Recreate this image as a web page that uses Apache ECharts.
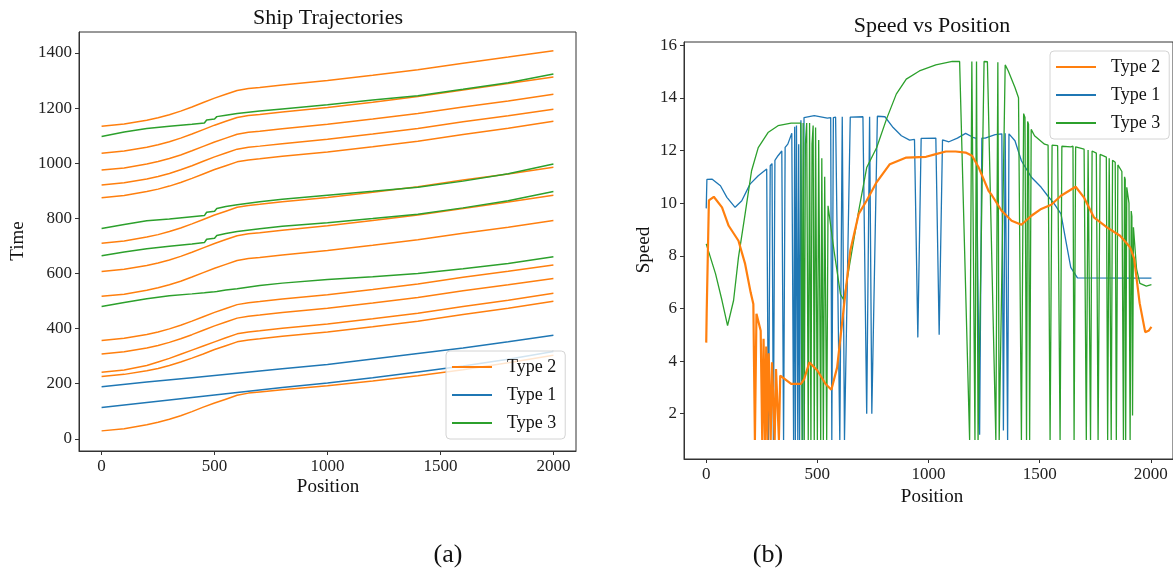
<!DOCTYPE html>
<html><head><meta charset="utf-8">
<script src="https://cdn.jsdelivr.net/npm/echarts@6.0.0/dist/echarts.min.js"></script>
<style>html,body{margin:0;padding:0;background:#fff}#c{width:1173px;height:574px}</style>
</head><body><div id="c"></div>
<script>
// ---------- (a) Ship Trajectories ----------
const trajPos = [0,100,200,250,300,350,400,450,500,550,600,650,700,800,1000,1200,1400,1600,1800,2000];
const type2Trajectories = [
  [1134,1142,1156,1165,1176,1189,1204,1220,1236,1250,1264,1271,1275,1284,1300,1319,1339,1363,1385,1408],
  [1036,1044,1058,1067,1078,1091,1106,1122,1138,1152,1166,1173,1177,1186,1202,1221,1242,1266,1289,1313],
  [975,983,997,1006,1017,1030,1045,1061,1077,1091,1105,1112,1116,1125,1141,1160,1180,1204,1226,1250],
  [921,929,943,952,963,976,991,1007,1023,1037,1051,1058,1062,1071,1087,1106,1126,1150,1172,1196],
  [875,883,897,906,917,930,945,961,977,991,1005,1012,1016,1025,1041,1060,1080,1104,1127,1152],
  [710,718,732,741,752,765,780,796,812,826,840,847,851,860,876,895,915,939,961,985],
  [607,615,629,638,649,662,677,693,709,723,737,744,748,757,773,792,812,836,859,884],
  [517,525,539,548,559,572,587,603,619,633,647,654,658,667,683,702,722,746,768,792],
  [357,365,379,388,399,412,427,443,459,473,487,494,498,507,523,542,562,586,608,631],
  [308,316,330,339,350,363,378,394,410,424,438,445,449,458,474,493,513,537,559,582],
  [242,250,266,279,292,307,322,337,352,367,381,388,392,401,417,436,456,480,503,528],
  [226,234,247,255,266,279,293,308,324,338,352,359,363,372,388,407,427,451,474,499],
  [29,37,51,60,71,84,99,115,130,144,158,166,170,178,193,210,229,251,276,303]
];
const type1Pos = [0,200,400,600,800,1000,1200,1400,1600,1800,2000];
const type1Trajectories = [
  [189,206,222,238,254,270,290,310,330,352,376],
  [114,132,150,168,186,203,222,243,264,289,317]
];
const type3Pos = [0,100,200,300,400,455,465,500,510,550,600,700,800,1000,1200,1400,1600,1800,2000];
const type3Trajectories = [
  [1097,1113,1126,1134,1141,1146,1157,1160,1169,1174,1180,1189,1197,1212,1229,1245,1268,1292,1324],
  [763,778,791,798,806,810,822,826,836,843,849,860,869,884,898,913,935,962,997],
  [664,678,690,699,707,712,724,728,738,745,752,762,771,784,799,815,838,864,897],
  [480,495,508,519,526,530,531,534,535,540,545,556,565,578,588,600,617,636,661]
];
const trajYTicks = [0,200,400,600,800,1000,1200,1400];
const posTicks = [0,500,1000,1500,2000];

// ---------- (b) Speed vs Position : [position, speed] ----------
const speedType2 = [[0,4.7],[2,5.8],[12,10.1],[34,10.24],[71,9.84],[101,9.14],[145,8.57],[175,7.69],[200,6.6],[212,6.17],[219,1],[226,5.8],[245,5.15],[252,1],[258,4.85],[264,1],[270,4.55],[275,1],[281,4.3],[290,1],[296,3.95],[308,1],[314,3.7],[327,1],[333,3.45],[382,3.13],[426,3.13],[440,3.3],[464,3.95],[500,3.64],[537,3.13],[563,2.91],[589,3.76],[619,6.04],[648,8.19],[686,9.59],[722,10.1],[767,10.8],[826,11.48],[900,11.73],[989,11.76],[1033,11.86],[1078,11.96],[1122,11.96],[1167,11.92],[1196,11.8],[1226,11.35],[1270,10.47],[1285,10.3],[1329,9.71],[1374,9.33],[1418,9.18],[1463,9.52],[1507,9.78],[1552,9.94],[1596,10.28],[1662,10.62],[1699,10.22],[1744,9.46],[1803,9.08],[1862,8.76],[1907,8.32],[1925,7.9],[1950,6.2],[1975,5.1],[1990,5.15],[2003,5.3]];
const speedType1 = [[0,9.8],[3,10.9],[27,10.91],[64,10.66],[93,10.22],[130,9.84],[160,10.09],[197,10.72],[234,11.04],[272,11.3],[280,1],[288,11.42],[296,11.5],[302,1],[309,11.62],[323,11.8],[340,11.98],[348,1],[355,12.12],[367,12.24],[385,12.65],[393,1],[398,12.9],[401,1],[406,12.95],[412,1],[416,12.24],[420,1],[426,13.15],[434,1],[440,13.25],[486,13.32],[545,13.23],[560,13.25],[565,1],[572,13.25],[582,13.27],[601,1],[612,13.28],[622,1],[648,13.27],[705,13.28],[722,2],[735,13.28],[745,2],[770,13.3],[804,13.28],[841,12.87],[878,12.56],[915,12.39],[937,12.42],[952,4.9],[967,12.46],[1033,12.47],[1048,5.0],[1063,12.4],[1092,12.33],[1130,12.47],[1167,12.65],[1200,12.5],[1215,12.46],[1230,1.2],[1240,12.47],[1255,12.47],[1300,12.6],[1330,12.63],[1337,1.36],[1345,12.65],[1352,12.62],[1356,1],[1362,12.63],[1389,12.37],[1418,11.61],[1463,10.98],[1507,10.6],[1536,10.28],[1566,9.97],[1596,9.59],[1618,8.57],[1640,7.56],[1670,7.16],[2003,7.15]];
const speedType3 = [[0,8.45],[42,7.31],[71,6.3],[96,5.35],[123,6.3],[145,7.94],[175,9.59],[204,11.23],[234,12.11],[278,12.68],[323,12.94],[382,13.04],[425,13.04],[431,1],[436,13.04],[441,1],[446,12.24],[452,13.04],[459,1],[465,13.04],[471,1],[476,12.24],[481,12.95],[486,1],[492,12.87],[500,1],[506,12.4],[515,1],[520,11.7],[527,1],[533,11.0],[542,1],[548,9.9],[575,8.19],[604,6.54],[619,6.32],[648,7.81],[686,9.71],[722,11.35],[767,12.11],[811,13.19],[855,14.14],[900,14.71],[959,15.02],[1033,15.25],[1107,15.38],[1140,15.38],[1185,1],[1195,15.38],[1209,1],[1216,15.38],[1223,1],[1250,15.38],[1265,15.37],[1303,1],[1312,15.35],[1318,1],[1345,15.25],[1359,15.02],[1389,14.39],[1405,14.0],[1418,1],[1428,13.4],[1434,13.25],[1441,1],[1446,13.1],[1450,13.0],[1455,1],[1462,12.8],[1477,12.56],[1522,12.24],[1538,12.2],[1547,1],[1556,12.2],[1581,12.18],[1588,12.17],[1592,1],[1600,12.16],[1640,12.14],[1650,12.16],[1655,1],[1662,12.14],[1700,12.05],[1710,1],[1718,12.02],[1725,12.0],[1729,1],[1736,11.98],[1755,11.9],[1763,1],[1772,11.85],[1800,11.75],[1806,1],[1813,11.7],[1818,11.68],[1822,1],[1828,11.63],[1840,11.55],[1845,1],[1852,11.45],[1870,11.2],[1877,1],[1882,11.0],[1885,10.9],[1887,1],[1892,10.6],[1902,10.0],[1907,1],[1912,9.7],[1915,9.5],[1918,1.93],[1922,9.08],[1936,7.5],[1951,6.95],[1980,6.85],[2003,6.9]];
const speedYTicks = [2,4,6,8,10,12,14,16];

const C2 = '#ff7f0e', C1 = '#1f77b4', C3 = '#2ca02c';
const FONT = 'Liberation Serif';
const AX = '#333';

function trajSeries(name, color, xs, ys) {
  return {
    type: 'line', name, xAxisIndex: 0, yAxisIndex: 0,
    data: xs.map((x, i) => [x, ys[i]]),
    symbol: 'none', showSymbol: false,
    lineStyle: { color, width: 1.5 }, itemStyle: { color },
    emphasis: { disabled: true }, animation: false, z: 2
  };
}
function speedSeries(name, color, data, width, z) {
  return {
    type: 'line', name, xAxisIndex: 1, yAxisIndex: 1, data,
    symbol: 'none', showSymbol: false, lineStyle: { color, width }, itemStyle: { color },
    emphasis: { disabled: true }, animation: false, z
  };
}

const series = [];
type2Trajectories.forEach(ys => series.push(trajSeries('Type 2', C2, trajPos, ys)));
type1Trajectories.forEach(ys => series.push(trajSeries('Type 1', C1, type1Pos, ys)));
type3Trajectories.forEach(ys => series.push(trajSeries('Type 3', C3, type3Pos, ys)));
series.push(speedSeries('Type 1', C1, speedType1, 1.3, 2));
series.push(speedSeries('Type 3', C3, speedType3, 1.3, 3));
series.push(speedSeries('Type 2', C2, speedType2, 2.2, 4));

const fmt = v => String(v);
function xAxisCfg(gi) {
  return {
    type: 'value', gridIndex: gi, min: -100, max: 2100,
    axisLine: { show: true, onZero: false, lineStyle: { color: AX, width: 1 } },
    axisTick: { show: true, length: 4, lineStyle: { color: AX }, customValues: posTicks },
    axisLabel: { customValues: posTicks, formatter: fmt, fontFamily: FONT, fontSize: 17, color: '#222', margin: 7 },
    splitLine: { show: false }
  };
}
function yAxisCfg(gi, min, max, ticks) {
  return {
    type: 'value', gridIndex: gi, min, max,
    axisLine: { show: true, onZero: false, lineStyle: { color: AX, width: 1 } },
    axisTick: { show: true, length: 4, lineStyle: { color: AX }, customValues: ticks },
    axisLabel: { customValues: ticks, formatter: fmt, fontFamily: FONT, fontSize: 17, color: '#222', margin: 7 },
    splitLine: { show: false }
  };
}
const legendBase = {
  data: ['Type 2', 'Type 1', 'Type 3'], orient: 'vertical', icon: 'rect',
  itemWidth: 40, itemHeight: 2, itemGap: 8, padding: [6, 9, 6, 6],
  backgroundColor: 'rgba(255,255,255,0.8)', borderColor: '#d4d4d4', borderWidth: 1, borderRadius: 4,
  textStyle: { fontFamily: FONT, fontSize: 18, color: '#111', lineHeight: 20, padding: [0, 0, 0, 10] },
  selectedMode: false
};

const chart = echarts.init(document.getElementById('c'), null, { renderer: 'canvas' });
chart.setOption({
  backgroundColor: '#fff',
  animation: false,
  grid: [
    { left: 79, top: 32, width: 497, height: 419, show: true, borderColor: AX, borderWidth: 1, containLabel: false },
    { left: 684, top: 42, width: 496, height: 417, show: true, borderColor: AX, borderWidth: 1, containLabel: false }
  ],
  xAxis: [xAxisCfg(0), xAxisCfg(1)],
  yAxis: [yAxisCfg(0, -44, 1476, trajYTicks), yAxisCfg(1, 0.28, 16.12, speedYTicks)],
  legend: [
    Object.assign({}, legendBase, { left: 446, top: 351 }),
    Object.assign({}, legendBase, { left: 1050, top: 51 })
  ],
  graphic: [
    { type: 'text', x: 328, y: 29, style: { text: 'Ship Trajectories', font: '22px "Liberation Serif"', fill: '#111', textAlign: 'center', textVerticalAlign: 'bottom' } },
    { type: 'text', x: 932, y: 37, style: { text: 'Speed vs Position', font: '22px "Liberation Serif"', fill: '#111', textAlign: 'center', textVerticalAlign: 'bottom' } },
    { type: 'text', x: 328, y: 497, style: { text: 'Position', font: '19px "Liberation Serif"', fill: '#111', textAlign: 'center', textVerticalAlign: 'bottom' } },
    { type: 'text', x: 932, y: 507, style: { text: 'Position', font: '19px "Liberation Serif"', fill: '#111', textAlign: 'center', textVerticalAlign: 'bottom' } },
    { type: 'text', x: 28, y: 241, rotation: Math.PI / 2, style: { text: 'Time', font: '19px "Liberation Serif"', fill: '#111', textAlign: 'center', textVerticalAlign: 'bottom' } },
    { type: 'text', x: 654, y: 250, rotation: Math.PI / 2, style: { text: 'Speed', font: '19px "Liberation Serif"', fill: '#111', textAlign: 'center', textVerticalAlign: 'bottom' } },
    { type: 'text', x: 448, y: 568, style: { text: '(a)', font: '26px "Liberation Serif"', fill: '#111', textAlign: 'center', textVerticalAlign: 'bottom' } },
    { type: 'text', x: 768, y: 568, style: { text: '(b)', font: '26px "Liberation Serif"', fill: '#111', textAlign: 'center', textVerticalAlign: 'bottom' } }
  ],
  series
});
</script></body></html>
